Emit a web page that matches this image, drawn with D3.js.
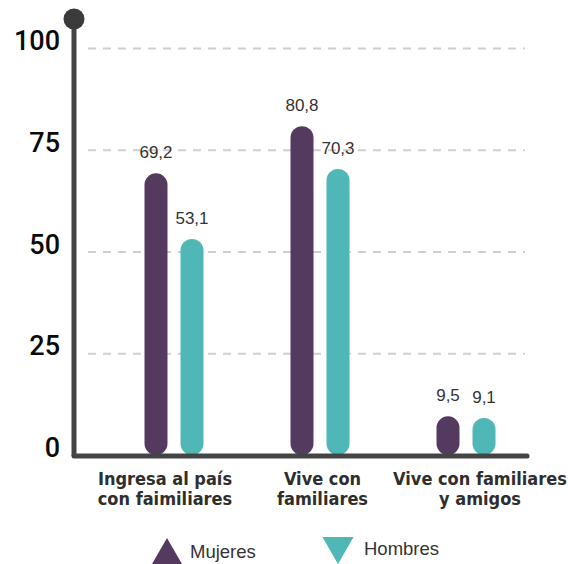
<!DOCTYPE html>
<html>
<head>
<meta charset="utf-8">
<script src="https://cdn.jsdelivr.net/npm/d3@7"></script>
<style>
  html, body { margin: 0; padding: 0; background: #ffffff; }
  svg { display: block; }
</style>
</head>
<body>
<div id="chart"></div>
<script>
// Categories, series and tick values
const categories = [
  ["Ingresa al país", "con faimiliares"],
  ["Vive con", "familiares"],
  ["Vive con familiares", "y amigos"]
];
const seriesNames = ["Mujeres", "Hombres"];
const mujeres = [69.2, 80.8, 9.5];
const hombres = [53.1, 70.3, 9.1];
const yTicks = [0, 25, 50, 75, 100];

const colors = { Mujeres: "#553a60", Hombres: "#4fb8b7" };
const W = 568, H = 564;

const svg = d3.select("#chart").append("svg")
  .attr("width", W).attr("height", H);

const catKeys = categories.map((c, i) => i);

const y = d3.scaleLinear().domain([0, 100]).range([455, 48]);
const x = d3.scaleBand().domain(catKeys).range([101, 539]);
const xLabel = d3.scalePoint().domain(catKeys).range([165, 480]);
const barW = 23, barGap = 13;
const xSeries = d3.scaleOrdinal().domain(seriesNames)
  .range([-(barW + barGap) / 2, (barW + barGap) / 2]);

// Dashed gridlines
const grid = svg.append("g")
  .attr("transform", "translate(88,0)")
  .call(d3.axisRight(y).tickValues(yTicks.filter(t => t > 0)).tickSize(437).tickFormat(""));
grid.select(".domain").remove();
grid.selectAll("line")
  .attr("stroke", "#cfcfcf")
  .attr("stroke-width", 2)
  .attr("stroke-dasharray", "8,7");

// Y tick labels
const yAxis = svg.append("g")
  .attr("transform", "translate(60,0)")
  .call(d3.axisLeft(y).tickValues(yTicks).tickSize(0).tickPadding(0));
yAxis.select(".domain").remove();
yAxis.selectAll("text")
  .attr("dy", "0.36em")
  .attr("y", -8)
  .attr("fill", "#0a0a0a")
  .style("font-family", "Roboto, 'Liberation Sans', Arial, sans-serif")
  .style("font-size", "27px")
  .style("font-weight", "500");

// Bars (pill shaped)
const data = [];
catKeys.forEach(i => {
  data.push({ cat: i, series: "Mujeres", value: mujeres[i] });
  data.push({ cat: i, series: "Hombres", value: hombres[i] });
});

svg.append("g").selectAll("rect")
  .data(data)
  .join("rect")
  .attr("x", d => x(d.cat) + x.bandwidth() / 2 + xSeries(d.series) - barW / 2)
  .attr("y", d => y(d.value))
  .attr("width", barW)
  .attr("height", d => y(0) - y(d.value))
  .attr("rx", barW / 2)
  .attr("ry", barW / 2)
  .attr("fill", d => colors[d.series]);

// Value labels
const fmt = v => d3.format(".1f")(v).replace(".", ",");
svg.append("g").selectAll("text")
  .data(data)
  .join("text")
  .attr("x", d => x(d.cat) + x.bandwidth() / 2 + xSeries(d.series))
  .attr("y", d => y(d.value) - 15)
  .attr("text-anchor", "middle")
  .attr("fill", "#333")
  .style("font-family", "'Liberation Sans', Arial, sans-serif")
  .style("font-size", "17px")
  .text(d => fmt(d.value));

// Axis lines
svg.append("line")
  .attr("x1", 74).attr("x2", 74)
  .attr("y1", 19).attr("y2", 456)
  .attr("stroke", "#444").attr("stroke-width", 5);
svg.append("line")
  .attr("x1", 74).attr("x2", 527)
  .attr("y1", 456).attr("y2", 456)
  .attr("stroke", "#444").attr("stroke-width", 5)
  .attr("stroke-linecap", "round");
svg.append("circle")
  .attr("cx", 74).attr("cy", 19).attr("r", 10.5)
  .attr("fill", "#3b3b3b");

// Category labels
const catG = svg.append("g").selectAll("text")
  .data(catKeys)
  .join("text")
  .attr("x", d => xLabel(d))
  .attr("y", 485)
  .attr("text-anchor", "middle")
  .attr("fill", "#2e2e2e")
  .style("font-family", "'Liberation Sans Narrow', 'DejaVu Sans Condensed', sans-serif")
  .style("font-size", "18px")
  .style("font-weight", "bold");
catG.selectAll("tspan")
  .data(d => categories[d].map(t => ({ t, x: xLabel(d) })))
  .join("tspan")
  .attr("x", d => d.x)
  .attr("dy", (d, i) => i === 0 ? 0 : 20)
  .text(d => d.t);

// Legend
const legend = [
  { name: "Mujeres", cx: 167, cy: 556, rot: 0, tx: 190, ty: 558 },
  { name: "Hombres", cx: 338, cy: 546, rot: 180, tx: 364, ty: 555 }
];
const tri = d3.symbol().type(d3.symbolTriangle).size(420);
const lg = svg.append("g").selectAll("g")
  .data(legend)
  .join("g");
lg.append("path")
  .attr("d", tri())
  .attr("transform", d => `translate(${d.cx},${d.cy}) rotate(${d.rot})`)
  .attr("fill", d => colors[d.name]);
lg.append("text")
  .attr("x", d => d.tx)
  .attr("y", d => d.ty)
  .attr("fill", "#333")
  .style("font-family", "'Liberation Sans', Arial, sans-serif")
  .style("font-size", "18.5px")
  .text(d => d.name);
</script>
</body>
</html>
